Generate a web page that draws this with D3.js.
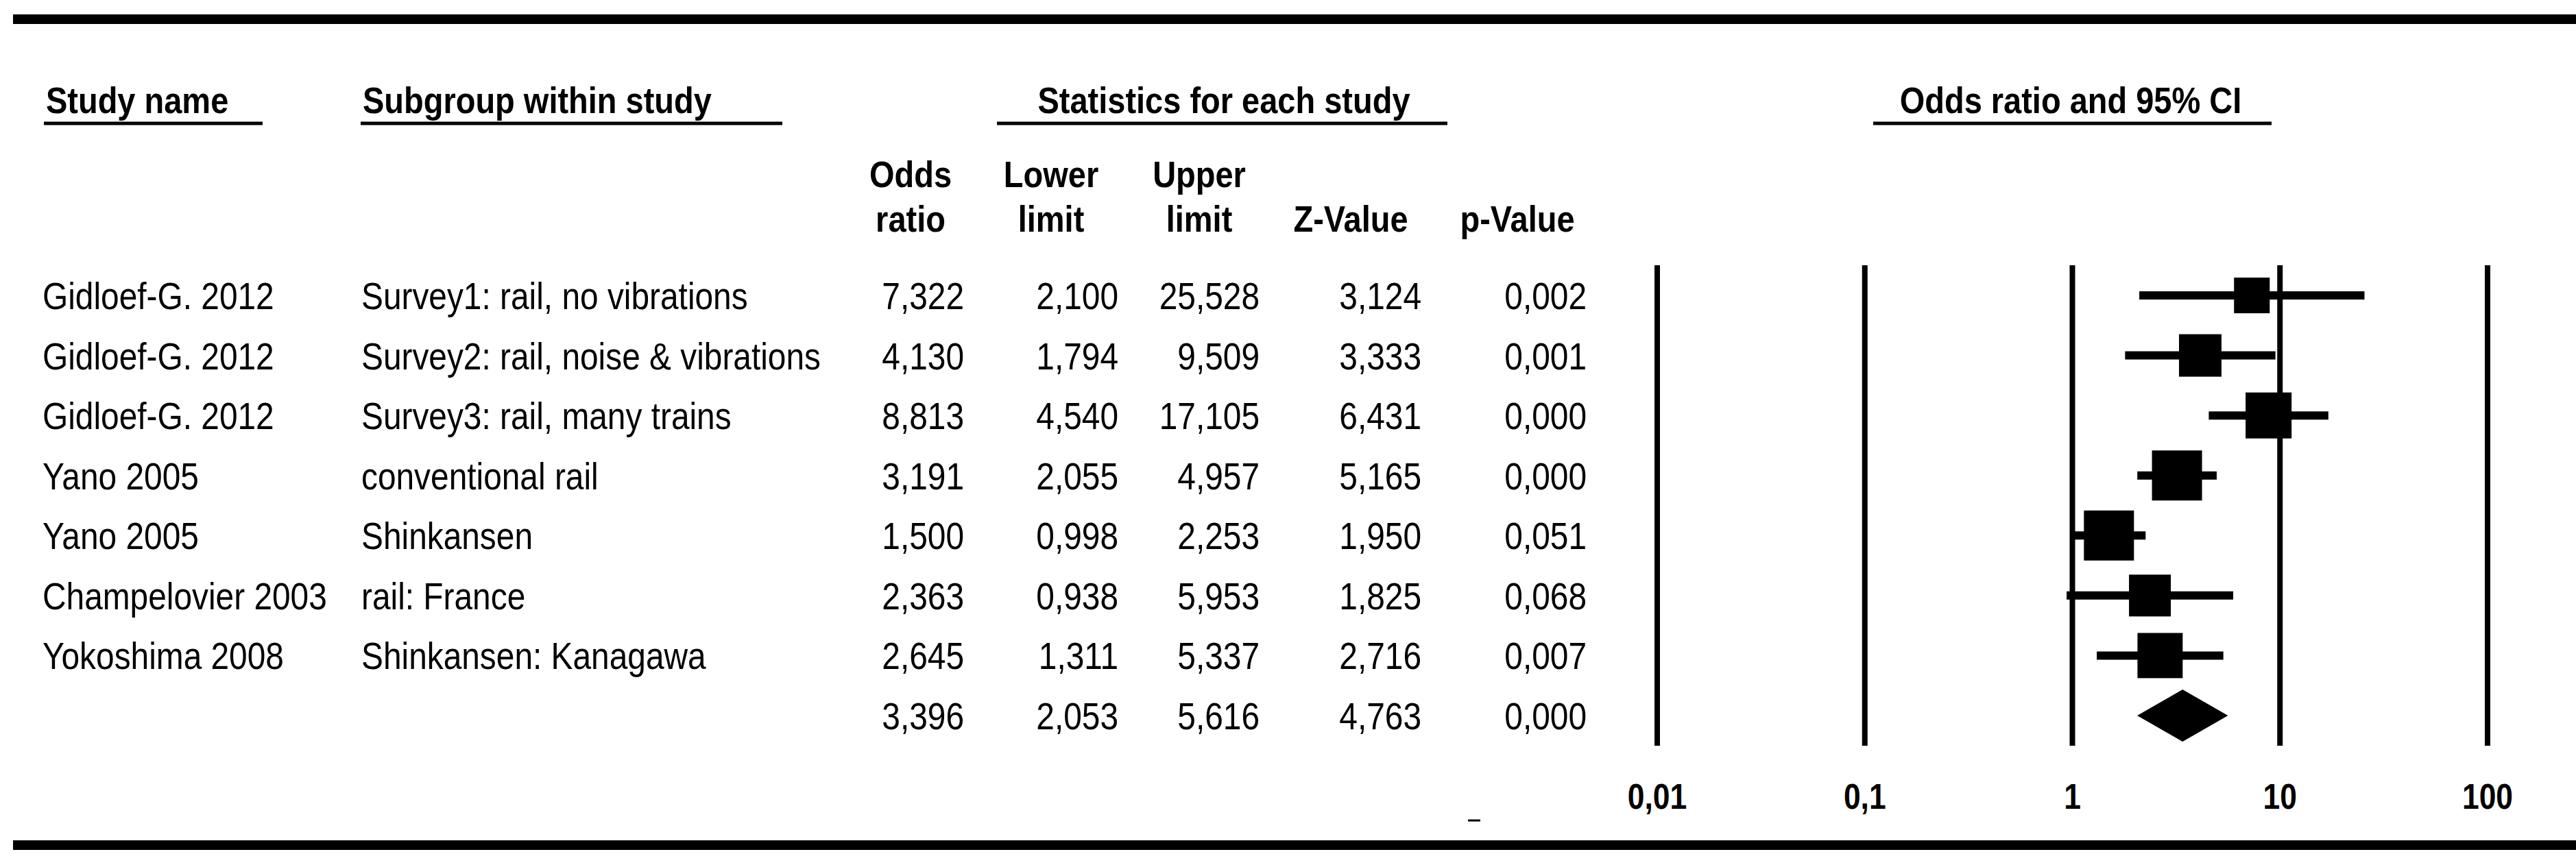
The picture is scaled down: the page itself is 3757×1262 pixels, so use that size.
<!DOCTYPE html>
<html>
<head>
<meta charset="utf-8">
<script src="https://cdn.jsdelivr.net/npm/d3@7"></script>
<style>
  body { margin: 0; background: #fff; }
  text { font-family: "Liberation Sans", Arial, sans-serif; fill: #000; }
</style>
</head>
<body>
<div id="chart"></div>
<script>
// study rows
let studies = ['Gidloef-G. 2012', 'Gidloef-G. 2012', 'Gidloef-G. 2012', 'Yano 2005', 'Yano 2005',
    'Champelovier 2003', 'Yokoshima 2008'];
let subgroups = ['Survey1: rail, no vibrations', 'Survey2: rail, noise & vibrations',
    'Survey3: rail, many trains', 'conventional rail', 'Shinkansen', 'rail: France', 'Shinkansen: Kanagawa'];
let oddsRatio = [7.322, 4.130, 8.813, 3.191, 1.500, 2.363, 2.645];
let lowerLimit = [2.100, 1.794, 4.540, 2.055, 0.998, 0.938, 1.311];
let upperLimit = [25.528, 9.509, 17.105, 4.957, 2.253, 5.953, 5.337];
let zValue = [3.124, 3.333, 6.431, 5.165, 1.950, 1.825, 2.716];
let pValue = [0.002, 0.001, 0.000, 0.000, 0.051, 0.068, 0.007];
// relative weight (%)
let weights = [9.1, 12.9, 15.1, 17.9, 17.9, 12.5, 14.6];

// pooled result
let pooled = [3.396, 2.053, 5.616, 4.763, 0.000];

let tickValues = [0.01, 0.1, 1, 10, 100];
let tickLabels = ['0,01', '0,1', '1', '10', '100'];

let width = 3757;
let height = 1262;
let squeeze = 0.87; // the original type is a little condensed

let svg = d3.select('#chart')
    .append('svg')
    .attr('width', width)
    .attr('height', height);

svg.append('rect')
    .attr('width', width)
    .attr('height', height)
    .attr('fill', '#fff');

let fmt = d3.formatLocale({
    decimal: ',',
    thousands: '.',
    grouping: [3],
    currency: ['', '']
}).format('.3f');

// scales
let x = d3.scaleLog().domain([0.01, 100]).range([2417, 3628]);
let y = d3.scalePoint().domain(d3.range(studies.length + 1)).range([431, 1044]);
let boxSize = d3.scaleSqrt().domain([0, 17.9]).range([0, 73]);

function label(px, py, str, anchor, size, bold) {
    svg.append('text')
        .attr('transform', 'translate(' + px + ',' + py + ') scale(' + squeeze + ',1)')
        .attr('text-anchor', anchor)
        .attr('font-size', size)
        .attr('font-weight', bold ? 'bold' : 'normal')
        .text(str);
}

function rule(x1, x2, yy, w) {
    svg.append('line')
        .attr('x1', x1).attr('x2', x2)
        .attr('y1', yy).attr('y2', yy)
        .attr('stroke', '#000')
        .attr('stroke-width', w);
}

// heavy frame bars
svg.append('rect').attr('x', 19).attr('y', 21).attr('width', width - 19).attr('height', 14).attr('fill', '#000');
svg.append('rect').attr('x', 19).attr('y', 1226).attr('width', width - 19).attr('height', 14).attr('fill', '#000');

// group headers
label(67, 165, 'Study name', 'start', 54, true);
rule(64, 383, 180, 5);
label(529, 165, 'Subgroup within study', 'start', 54, true);
rule(526, 1141, 180, 5);
label(1785, 165, 'Statistics for each study', 'middle', 54, true);
rule(1454, 2111, 180, 5);
label(3020, 165, 'Odds ratio and 95% CI', 'middle', 54, true);
rule(2732, 3313, 180, 5);

// column headers
let columns = [
    {right: 1406, center: 1328, head: ['Odds', 'ratio'], values: oddsRatio},
    {right: 1631, center: 1533, head: ['Lower', 'limit'], values: lowerLimit},
    {right: 1837, center: 1749, head: ['Upper', 'limit'], values: upperLimit},
    {right: 2073, center: 1970, head: ['', 'Z-Value'], values: zValue},
    {right: 2314, center: 2213, head: ['', 'p-Value'], values: pValue}
];

columns.forEach(function(col, c) {
    if (col.head[0]) {
        label(col.center, 273, col.head[0], 'middle', 54, true);
    }
    label(col.center, 338, col.head[1], 'middle', 54, true);

    col.values.forEach(function(v, i) {
        label(col.right, y(i) + 20, fmt(v), 'end', 55, false);
    });
    label(col.right, y(studies.length) + 20, fmt(pooled[c]), 'end', 55, false);
});

studies.forEach(function(s, i) {
    label(62, y(i) + 20, s, 'start', 55, false);
    label(527, y(i) + 20, subgroups[i], 'start', 55, false);
});

// small stray mark below the table
rule(2141, 2159, 1197, 3);

// reference lines at each decade
svg.selectAll('.grid')
    .data(tickValues)
    .enter()
    .append('line')
    .attr('class', 'grid')
    .attr('x1', function(d) { return x(d); })
    .attr('x2', function(d) { return x(d); })
    .attr('y1', 387)
    .attr('y2', 1088)
    .attr('stroke', '#000')
    .attr('stroke-width', 8);

tickValues.forEach(function(d, i) {
    label(x(d), 1180, tickLabels[i], 'middle', 51, true);
});

// confidence intervals
oddsRatio.forEach(function(or, i) {
    svg.append('line')
        .attr('x1', x(lowerLimit[i]))
        .attr('x2', x(upperLimit[i]))
        .attr('y1', y(i))
        .attr('y2', y(i))
        .attr('stroke', '#000')
        .attr('stroke-width', 12);

    let s = boxSize(weights[i]);
    svg.append('rect')
        .attr('x', x(or) - s / 2)
        .attr('y', y(i) - s / 2)
        .attr('width', s)
        .attr('height', s)
        .attr('fill', '#000');
});

// pooled diamond
let yd = y(studies.length);
svg.append('path')
    .attr('d', 'M' + x(pooled[1]) + ',' + yd +
        'L' + x(pooled[0]) + ',' + (yd - 38) +
        'L' + x(pooled[2]) + ',' + yd +
        'L' + x(pooled[0]) + ',' + (yd + 38) + 'Z')
    .attr('fill', '#000');
</script>
</body>
</html>
